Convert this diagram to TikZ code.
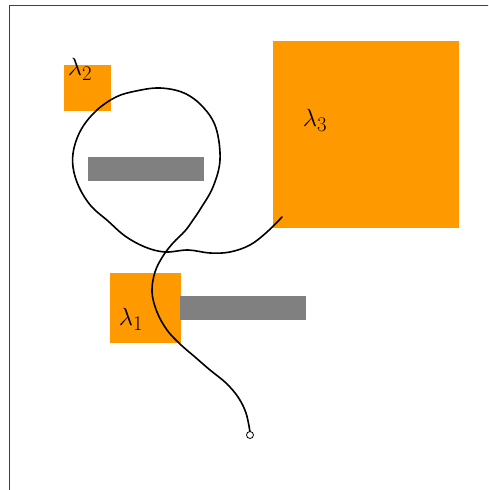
\documentclass[tikz,border=0pt]{standalone}
\definecolor{boxorange}{RGB}{255,153,0}
\definecolor{bargray}{RGB}{128,128,128}
\tikzset{
  region/.style={fill=boxorange, draw=none},
  bar/.style={fill=bargray, draw=none},
  lbl/.style={font=\fontsize{28}{30}\selectfont, inner sep=0pt},
  pathline/.style={line width=1.6pt, line join=round, line cap=round},
  frameline/.style={line width=0.9pt, draw=black!75},
}
\begin{document}
\begin{tikzpicture}[x=1pt, y=-1pt]
\clip (0,0) rectangle (488,490);
\fill[white] (0,0) rectangle (488,490);
\draw[frameline] (9,500) -- (9,5.5) -- (500,5.5);
% regions
\fill[region] (64,65) rectangle (111,111);
\fill[region] (273,41) rectangle (459,228);
\fill[region] (110,273) rectangle (181,343);
% bars
\fill[bar] (88,157) rectangle (204,181);
\fill[bar] (180,296) rectangle (306,320);
% labels
\node[lbl] (l2) at (80,69) {$\lambda_2$};
\node[lbl] (l3) at (315,120) {$\lambda_3$};
\node[lbl] (l1) at (131,319) {$\lambda_1$};
% path
\coordinate (start) at (250,435);
\coordinate (finish) at (282,217);
\draw[pathline] plot[smooth, tension=0.6] coordinates {
 (250,432) (246,413) (238,397) (226,383) (210,370) (195,357) (180,344)
 (167,330) (157,312) (152,292) (155,272) (163,256) (173,243) (185,231)
 (193,220) (201,208) (213,187) (220,160) (216,128) (203,107) (184,93)
 (160,88) (136,91) (116,97) (97,110) (82,128) (74,148) (73,167) (79,187)
 (91,206) (108,221) (125,236) (145,247) (165,252) (188,250) (210,253) (230,252)
 (250,245) (267,232) (282,217)};
\node[draw, circle, line width=0.8pt, minimum size=7pt, inner sep=0pt, fill=white] (s) at (start) {};
\end{tikzpicture}
\end{document}
